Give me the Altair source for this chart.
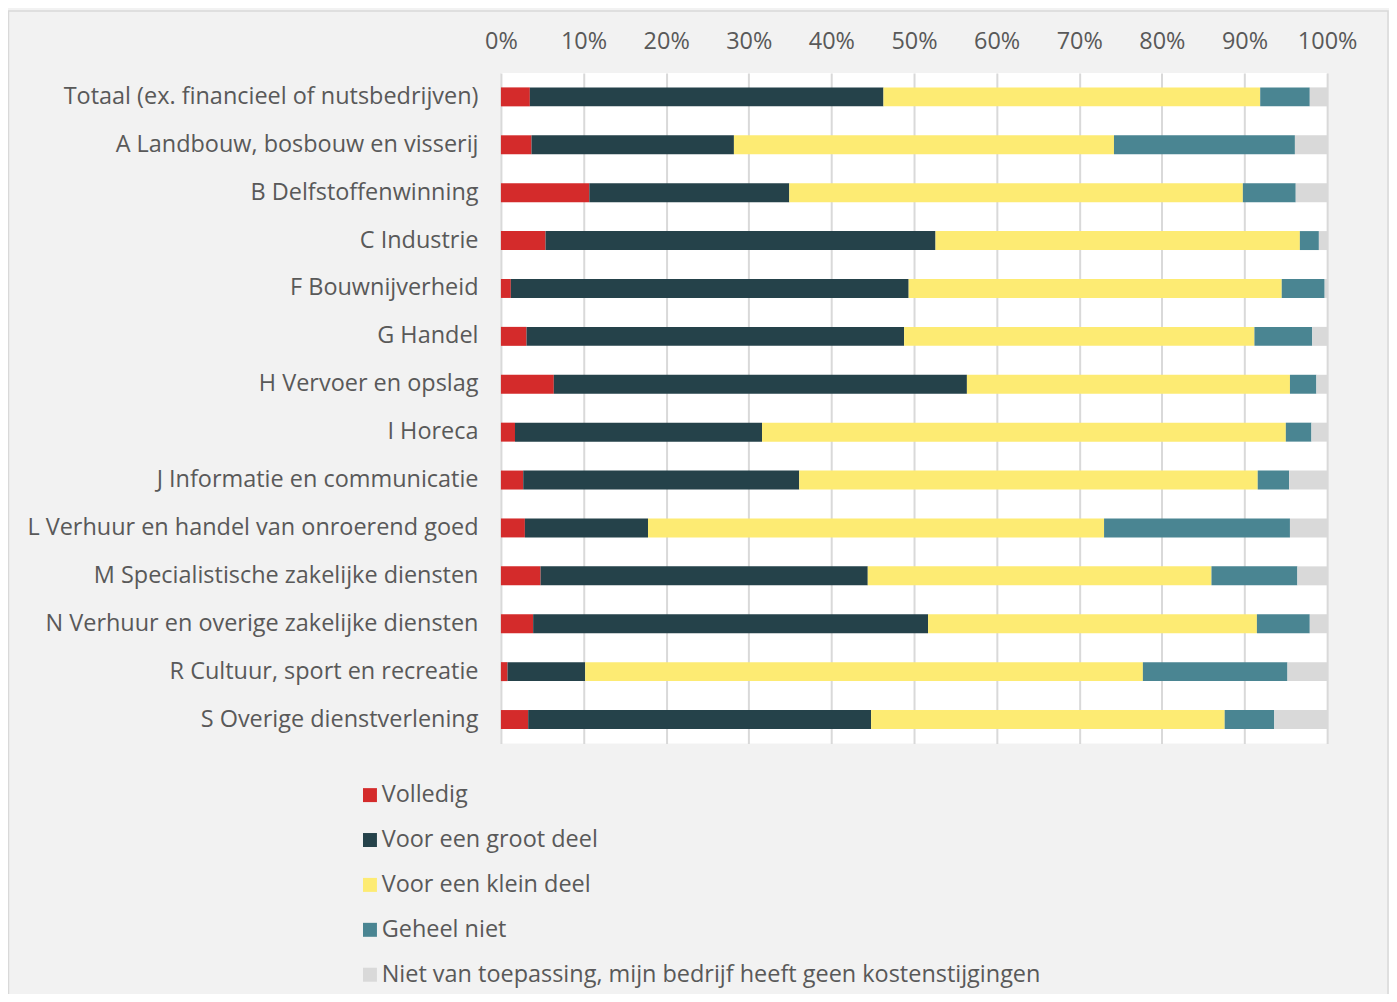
import altair as alt
import pandas as pd

categories = [
    "Totaal (ex. financieel of nutsbedrijven)",
    "A Landbouw, bosbouw en visserij",
    "B Delfstoffenwinning",
    "C Industrie",
    "F Bouwnijverheid",
    "G Handel",
    "H Vervoer en opslag",
    "I Horeca",
    "J Informatie en communicatie",
    "L Verhuur en handel van onroerend goed",
    "M Specialistische zakelijke diensten",
    "N Verhuur en overige zakelijke diensten",
    "R Cultuur, sport en recreatie",
    "S Overige dienstverlening",
]

series = [
    "Volledig",
    "Voor een groot deel",
    "Voor een klein deel",
    "Geheel niet",
    "Niet van toepassing, mijn bedrijf heeft geen kostenstijgingen",
]

volledig = [3.5, 3.7, 10.7, 5.4, 1.2, 3.1, 6.4, 1.7, 2.7, 2.9, 4.8, 3.9, 0.8, 3.3]
groot = [42.8, 24.5, 24.2, 47.2, 48.2, 45.7, 50.0, 29.9, 33.4, 14.9, 39.6, 47.8, 9.4, 41.5]
klein = [45.6, 46.0, 54.9, 44.1, 45.2, 42.4, 39.1, 63.4, 55.5, 55.2, 41.6, 39.8, 67.5, 42.8]
geheel_niet = [6.0, 21.9, 6.4, 2.3, 5.2, 7.0, 3.2, 3.1, 3.8, 22.5, 10.4, 6.4, 17.5, 6.0]
nvt = [2.1, 3.9, 3.8, 1.0, 0.3, 1.8, 1.3, 1.9, 4.6, 4.5, 3.6, 2.1, 4.8, 6.4]

colors = ["#d42b2b", "#25424a", "#fdeb73", "#4a8592", "#d9d9d9"]
tick_values = [0, 0.1, 0.2, 0.3, 0.4, 0.5, 0.6, 0.7, 0.8, 0.9, 1.0]

rows = []
for s_i, (name, vals) in enumerate(zip(series, [volledig, groot, klein, geheel_niet, nvt])):
    for cat, v in zip(categories, vals):
        rows.append({"sector": cat, "antwoord": name, "waarde": v, "volgorde": s_i})
df = pd.DataFrame(rows)

FONT = "Open Sans"
TXT = "#595959"
FS = 23.5

frame = alt.Chart(alt.Data(values=[{"k": 1}])).mark_rect(
    fill="transparent", stroke="#d9d9d9", strokeWidth=1.5
).encode(
    x=alt.value(-493.5), x2=alt.value(889), y=alt.value(-62), y2=alt.value(1000)
)

bars = alt.Chart(df).mark_bar(size=19).encode(
    y=alt.Y("sector:N", sort=categories, title=None,
            scale=alt.Scale(paddingInner=0.6, paddingOuter=0.3),
            axis=alt.Axis(domain=False, ticks=False, labelPadding=23,
                          labelFontSize=FS, labelColor=TXT, labelFont=FONT,
                          labelLimit=700, grid=False)),
    x=alt.X("waarde:Q", stack="normalize", title=None,
            scale=alt.Scale(domain=[0, 1], nice=False),
            axis=alt.Axis(orient="top", format=".0%", values=tick_values,
                          domain=False, ticks=False, tickSize=0, labelPadding=19,
                          labelFlush=False, labelOverlap=False,
                          labelFontSize=FS, labelColor=TXT, labelFont=FONT,
                          grid=True, gridColor="#d9d9d9", gridWidth=2)),
    color=alt.Color("antwoord:N", sort=series,
                    scale=alt.Scale(domain=series, range=colors),
                    legend=alt.Legend(title=None, orient="none", legendX=-143, legendY=712,
                                      direction="vertical", symbolType="square",
                                      symbolSize=196, symbolStrokeWidth=0,
                                      labelFontSize=FS, labelColor=TXT, labelFont=FONT,
                                      labelOffset=0, rowPadding=20, padding=0,
                                      labelLimit=900)),
    order=alt.Order("volgorde:Q", sort="ascending"),
)

chart = alt.layer(frame, bars).properties(
    width=828, height=672,
    autosize=alt.AutoSizeParams(type="none"),
    padding={"left": 494, "top": 64, "right": 62, "bottom": 250},
).configure(background="#f2f2f2").configure_view(fill="white", strokeWidth=0)

chart.save("out.html", embed_options={"renderer": "svg", "actions": False})
